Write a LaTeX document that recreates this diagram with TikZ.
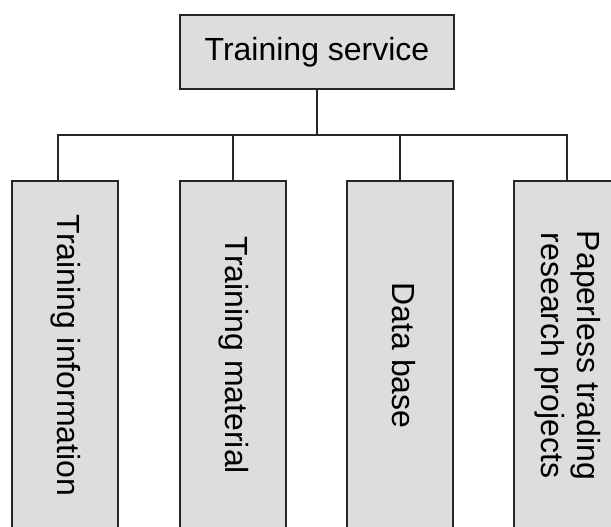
\documentclass[tikz,border=0pt]{standalone}
\usepackage{graphicx}
\usepackage{fontspec}
\setmainfont{Liberation Sans}
\usetikzlibrary{positioning}
\definecolor{boxgray}{RGB}{221,221,221}
\newcommand{\vtext}[1]{\rotatebox{-90}{\begin{tabular}{@{}c@{}}#1\end{tabular}}}
\tikzset{topbox/.style={draw=black!85,fill=boxgray,line width=1.2pt,minimum width=274pt,minimum height=74pt,inner sep=0pt},leafbox/.style={draw=black!85,fill=boxgray,line width=1.2pt,minimum width=106pt,minimum height=349pt,inner sep=0pt},link/.style={draw=black!85,line width=1.2pt}}
\begin{document}
\begin{tikzpicture}[x=1pt,y=-1pt,font=\fontsize{32}{36}\selectfont]
\useasboundingbox (0,0) rectangle (611,527);
\node[topbox] (service) at (317,52) {Training service};
\node[leafbox] (info) at (65,355.5) {\vtext{Training information}};
\node[leafbox] (material) at (233,355.5) {\vtext{Training material}};
\node[leafbox] (database) at (400,355.5) {\vtext{Data base}};
\node[leafbox] (paperless) at (567,355.5) {\vtext{Paperless trading\\research projects}};
\coordinate (bus) at (317,135);
\draw[link] (service.south) -- (bus);
\draw[link] (bus) -| ([xshift=-7pt]info.north);
\foreach \n in {material,database,paperless}{\draw[link] (bus) -| (\n.north);}
\end{tikzpicture}
\end{document}
